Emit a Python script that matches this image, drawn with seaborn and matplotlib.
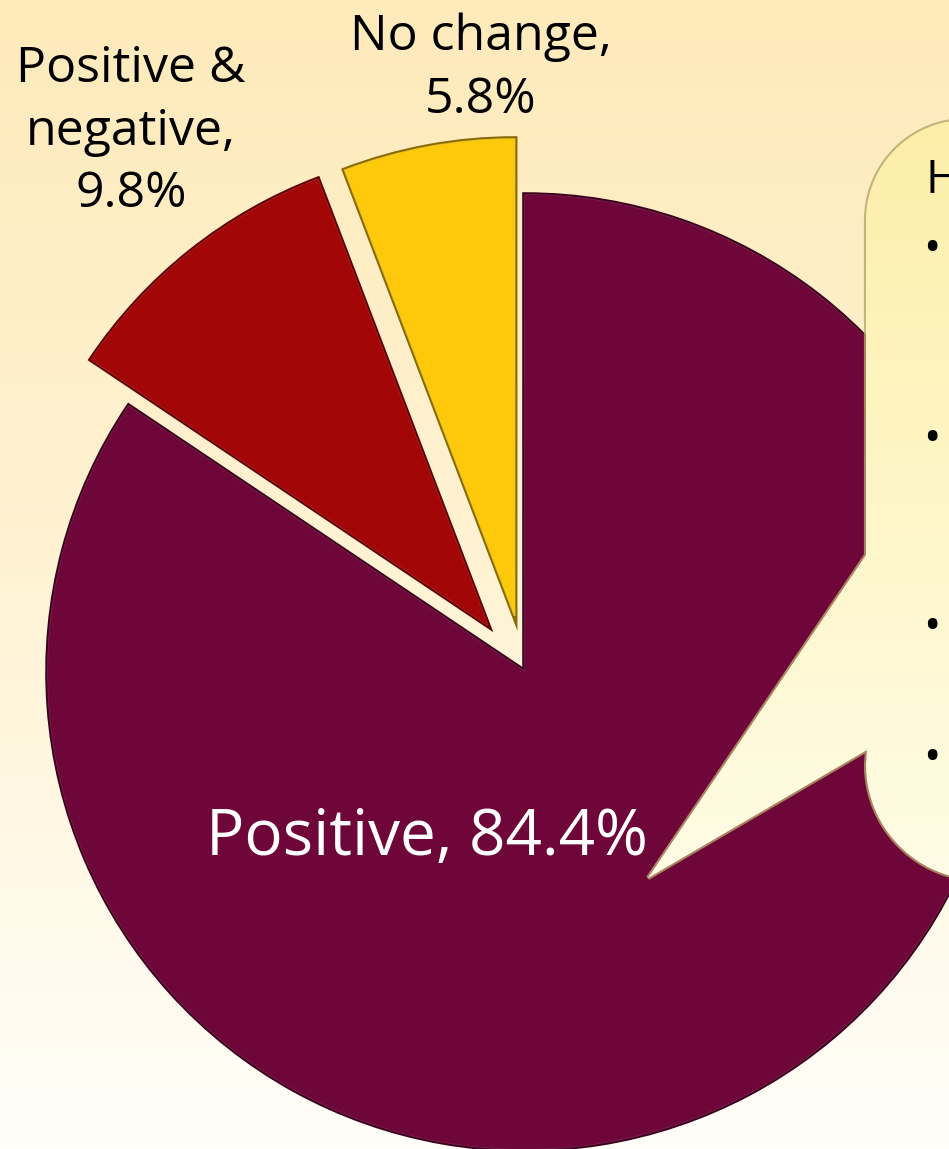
import numpy as np
import matplotlib
matplotlib.use("Agg")
import matplotlib.pyplot as plt
import matplotlib.patheffects as pe
from matplotlib.patches import PathPatch
from matplotlib.path import Path
import seaborn as sns

# ---------------- data ----------------
categories = ["No change", "Positive & negative", "Positive"]
shares = [5.8, 9.8, 84.4]
label_lines = [["No change,", "5.8%"],
               ["Positive &", "negative,", "9.8%"],
               ["Positive, 84.4%"]]
callout_title = "H"
callout_bullets = ["•", "•", "•", "•"]

# ---------------- style ----------------
sns.set_theme(style="white")
plt.rcParams['font.family'] = ['Open Sans', 'DejaVu Sans']

W, H = 949, 1149
fig = plt.figure(figsize=(W / 100, H / 100), dpi=100)
ax = fig.add_axes([0, 0, 1, 1])

# background gradient (top peach -> bottom white)
stops = np.array([[254, 234, 186], [255, 243, 212], [255, 254, 249]]) / 255.0
t = np.linspace(0, 1, 600)
grad = np.empty((600, 1, 3))
for c in range(3):
    grad[:, 0, c] = np.interp(t, [0, 0.5, 1], stops[:, c])
ax.imshow(grad, extent=[0, W, 0, H], aspect='auto', origin='upper', zorder=0)

# ---------------- pie ----------------
colors = ["#FFC90B", "#A30606", "#6F063A"]
edges = ["#8A6A00", "#5E0202", "#3C021E"]
highlights = ["#FFE45A", "#D8373A", "#9A3568"]
R = 477
wedges, _ = ax.pie(shares, explode=[57, 60, 0], colors=colors,
                   startangle=90, counterclock=True,
                   center=(525, H - 672), radius=R,
                   wedgeprops=dict(linewidth=0))
for w, ec, hl in zip(wedges, edges, highlights):
    w.set_zorder(2)
    w.set_path_effects([pe.Stroke(linewidth=4, foreground=ec),
                        pe.Stroke(linewidth=1.2, foreground=hl, alpha=0.6),
                        pe.Normal()])

# ---------------- labels ----------------
fs_small = 36
ax.text(481, H - 50, label_lines[0][0], fontsize=fs_small, ha='center', va='baseline', color='black', zorder=5)
ax.text(481, H - 113, label_lines[0][1], fontsize=fs_small, ha='center', va='baseline', color='black', zorder=5)
for line, base in zip(label_lines[1], [82, 145, 207]):
    ax.text(131, H - base, line, fontsize=fs_small, ha='center', va='baseline', color='black', zorder=5)
ax.text(427, H - 855, label_lines[2][0], fontsize=46, ha='center', va='baseline', color='white', zorder=5)

# ---------------- callout ----------------
def arc(cx, cy, r, a0, a1, n=30):
    a = np.radians(np.linspace(a0, a1, n))
    return list(zip(cx + r * np.cos(a), cy - r * np.sin(a)))

left, top, bot, right = 866, 120, 880, 1010
r_top, r_bot = 100, 115
pts = [(right, top), (left + r_top, top)]
pts += arc(left + r_top, top + r_top, r_top, 90, 180)
pts += [(left, 555), (648, 878), (867, 750)]
pts += arc(left + r_bot, bot - r_bot, r_bot, 180, 270)
pts += [(right, bot)]
pts = [(x, H - y) for x, y in pts]
path = Path(pts + [pts[0]], [Path.MOVETO] + [Path.LINETO] * (len(pts) - 1) + [Path.CLOSEPOLY])

shadow = PathPatch(path, facecolor='none', edgecolor='#B8A46A', linewidth=3, zorder=3, alpha=0.8)
ax.add_patch(shadow)
box = PathPatch(path, facecolor='none', edgecolor='none', zorder=4)
ax.add_patch(box)
bstops = np.array([[252, 238, 168], [254, 246, 200], [255, 252, 230]]) / 255.0
tb = np.linspace(0, 1, 400)
bgrad = np.empty((400, 1, 3))
for c in range(3):
    bgrad[:, 0, c] = np.interp(tb, [0, 0.5, 1], bstops[:, c])
im = ax.imshow(bgrad, extent=[600, W + 60, H - bot, H - top], aspect='auto', origin='upper', zorder=4)
im.set_clip_path(box)

ax.text(926, H - 193, callout_title, fontsize=33, ha='left', va='baseline', color='black', zorder=6)
for b, yc in zip(callout_bullets, [250, 440, 628, 759]):
    ax.text(932, H - yc - 12, b, fontsize=33, ha='center', va='baseline', color='black', zorder=6)

ax.set_xlim(0, W)
ax.set_ylim(0, H)
ax.set_aspect('auto')
ax.axis('off')

fig.savefig("out.png", dpi=100)
